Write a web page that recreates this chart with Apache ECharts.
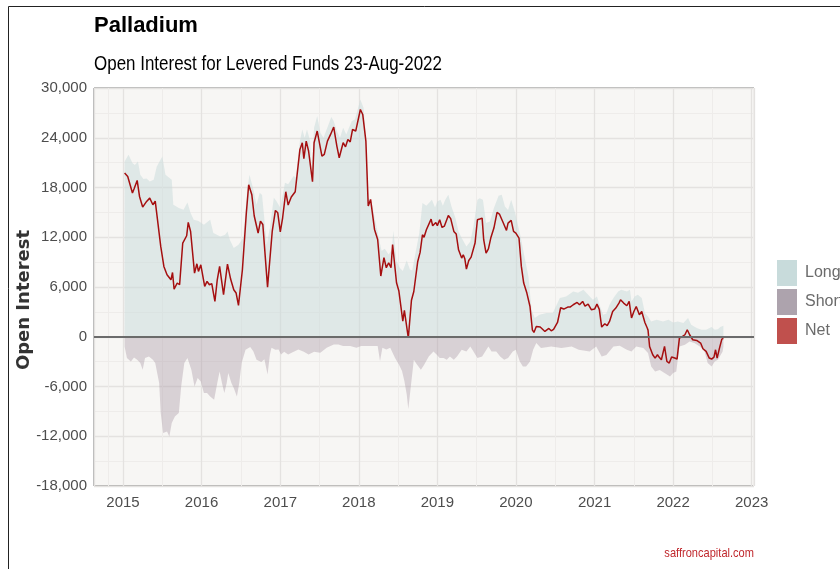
<!DOCTYPE html>
<html>
<head>
<meta charset="utf-8">
<title>Palladium</title>
<script src="https://cdn.jsdelivr.net/npm/echarts@6/dist/echarts.min.js"></script>
<style>
  html, body { margin: 0; padding: 0; background: #fff; }
  #chart { width: 840px; height: 569px; }
</style>
</head>
<body>
<div id="chart"></div>
<script>
// dates are decimal years, values are contracts
var longDates = [2015.02, 2015.07, 2015.12, 2015.15, 2015.19, 2015.22, 2015.26, 2015.30, 2015.34, 2015.39, 2015.43, 2015.50, 2015.54, 2015.62, 2015.64, 2015.71, 2015.77, 2015.82, 2015.86, 2015.90, 2015.96,
  2016.03, 2016.11, 2016.15, 2016.24, 2016.30, 2016.33, 2016.36, 2016.41, 2016.47, 2016.53, 2016.58, 2016.61, 2016.66, 2016.70, 2016.74, 2016.77, 2016.83, 2016.87, 2016.92, 2016.95,
  2017.00, 2017.06, 2017.10, 2017.17, 2017.20, 2017.25, 2017.28, 2017.31, 2017.34, 2017.38, 2017.40, 2017.43, 2017.47, 2017.51, 2017.55, 2017.59, 2017.65, 2017.68, 2017.72, 2017.76, 2017.80, 2017.84, 2017.91, 2017.95,
  2018.02, 2018.06, 2018.09, 2018.12, 2018.16, 2018.21, 2018.25, 2018.29, 2018.33, 2018.38, 2018.42, 2018.44, 2018.48, 2018.52, 2018.56, 2018.61, 2018.65, 2018.68, 2018.72, 2018.77, 2018.81, 2018.86, 2018.93, 2018.97,
  2019.00, 2019.04, 2019.07, 2019.10, 2019.14, 2019.18, 2019.23, 2019.27, 2019.31, 2019.37, 2019.42, 2019.46, 2019.51, 2019.54, 2019.58, 2019.62, 2019.67, 2019.72, 2019.78, 2019.82, 2019.86, 2019.90, 2019.94, 2019.99,
  2020.01, 2020.06, 2020.10, 2020.16, 2020.20, 2020.24, 2020.30, 2020.39, 2020.47, 2020.52, 2020.56, 2020.64, 2020.73, 2020.79, 2020.86, 2020.92, 2020.98,
  2021.03, 2021.07, 2021.11, 2021.15, 2021.19, 2021.24, 2021.30, 2021.34, 2021.41, 2021.45, 2021.47, 2021.51, 2021.55, 2021.60, 2021.64, 2021.68, 2021.72, 2021.79, 2021.87, 2021.94,
  2022.00, 2022.06, 2022.13, 2022.19, 2022.23, 2022.30, 2022.36, 2022.42, 2022.49, 2022.53, 2022.57, 2022.60, 2022.64];
var longValues = [21150, 21950, 20950, 20700, 21150, 19540, 19020, 19100, 18730, 18930, 20540, 21740, 19540, 18930, 15920, 15520, 15320, 16200, 14920, 14110, 13950,
  13510, 14110, 12510, 12100, 12300, 12700, 11700, 10700, 11090, 11900, 17520, 19540, 17730, 15920, 17370, 17100, 11130, 13150, 16760, 16400,
  15560, 18570, 18400, 19380, 19200, 23600, 25000, 24000, 25000, 23600, 19980, 25200, 26610, 24600, 24000, 25000, 26490, 26000, 24810, 24000, 25200, 24400, 26010, 26200,
  28620, 27620, 24000, 16760, 16400, 13950, 12140, 10330, 10600, 9920, 10500, 12750, 9130, 8320, 7920, 9200, 8100, 8000, 10000, 12500, 16120, 15800, 16520, 15600,
  16320, 16520, 15800, 16500, 17120, 15710, 14310, 12700, 11900, 10890, 11500, 13300, 16520, 16700, 16520, 13710, 13900, 15520, 17000, 17120, 15710, 15300, 16520, 14920,
  14700, 12100, 10090, 7270, 3260, 2260, 2650, 2860, 2860, 3860, 4670, 4860, 5460, 5300, 5670, 5070, 4460,
  4860, 3650, 2650, 2800, 3860, 4670, 5460, 5670, 5460, 5670, 4260, 4860, 5070, 4670, 2860, 2450, 1850, 2050, 1850, 2050,
  1720, 1850, 1650, 2260, 1450, 1050, 840, 840, 1170, 840, 900, 1170, 1330];

var shortDates = [2015.02, 2015.05, 2015.10, 2015.14, 2015.18, 2015.22, 2015.25, 2015.28, 2015.33, 2015.38, 2015.41, 2015.46, 2015.48, 2015.51, 2015.56, 2015.59, 2015.62, 2015.66, 2015.71, 2015.74, 2015.78, 2015.82, 2015.87, 2015.91, 2015.95, 2015.99,
  2016.03, 2016.07, 2016.11, 2016.16, 2016.20, 2016.23, 2016.26, 2016.29, 2016.32, 2016.34, 2016.38, 2016.41, 2016.45, 2016.48, 2016.51, 2016.56, 2016.62, 2016.66, 2016.70, 2016.76, 2016.80, 2016.84, 2016.87, 2016.89, 2016.94, 2016.98,
  2017.01, 2017.05, 2017.10, 2017.17, 2017.23, 2017.30, 2017.36, 2017.43, 2017.51, 2017.59, 2017.68, 2017.74, 2017.80, 2017.89, 2017.97,
  2018.03, 2018.10, 2018.18, 2018.24, 2018.27, 2018.30, 2018.35, 2018.40, 2018.46, 2018.51, 2018.55, 2018.58, 2018.61, 2018.63, 2018.66, 2018.70, 2018.74, 2018.79, 2018.83, 2018.89, 2018.95, 2018.99,
  2019.03, 2019.08, 2019.12, 2019.16, 2019.21, 2019.25, 2019.31, 2019.37, 2019.42, 2019.46, 2019.51, 2019.57, 2019.61, 2019.65, 2019.69, 2019.75, 2019.80, 2019.85, 2019.90, 2019.96,
  2020.00, 2020.05, 2020.09, 2020.13, 2020.18, 2020.22, 2020.26, 2020.32, 2020.45, 2020.58, 2020.71, 2020.80, 2020.94,
  2021.02, 2021.09, 2021.15, 2021.24, 2021.32, 2021.41, 2021.47, 2021.53, 2021.62, 2021.68, 2021.72, 2021.77, 2021.83, 2021.89, 2021.96,
  2022.00, 2022.04, 2022.08, 2022.15, 2022.21, 2022.27, 2022.34, 2022.40, 2022.44, 2022.49, 2022.53, 2022.57, 2022.63, 2022.64];
var shortValues = [-1170, -2570, -2980, -2500, -2770, -3170, -3980, -2570, -2370, -2770, -3170, -5580, -9200, -11610, -11420, -12020, -10410, -9610, -9200, -5990, -3170, -2570, -3980, -5990, -4980, -5390,
  -6790, -6790, -7200, -7600, -5580, -4180, -5580, -6790, -5580, -4380, -5580, -6190, -7200, -5580, -3170, -1570, -1250, -1770, -2770, -3050, -2700, -4550, -2130, -1330, -1570, -1530,
  -2130, -1800, -2130, -1800, -1530, -1800, -2130, -1800, -1930, -1330, -930, -930, -1130, -1130, -1330,
  -1130, -1130, -1130, -1130, -2930, -1330, -1530, -1330, -2530, -3340, -4140, -5340, -6960, -8700, -6150, -2770, -3340, -3980, -3400, -2370, -1770, -2130,
  -2570, -2570, -2770, -2370, -2770, -2370, -1570, -1770, -1170, -1770, -2570, -2370, -1770, -1170, -1770, -1770, -2370, -2770, -2570, -1770,
  -1570, -2980, -3580, -3580, -2980, -1570, -760, -1370, -1170, -1370, -1170, -1570, -1770,
  -1170, -2370, -2200, -1170, -1100, -1570, -1770, -1170, -1370, -1970, -3580, -4180, -4000, -4380, -4790,
  -4380, -4180, -1170, -960, -560, -760, -1170, -1770, -3170, -3580, -2980, -2770, -1770, -1170];

var netDates = [2015.02, 2015.06, 2015.08, 2015.12, 2015.14, 2015.18, 2015.21, 2015.25, 2015.30, 2015.34, 2015.38, 2015.41, 2015.48, 2015.52, 2015.56, 2015.61, 2015.63, 2015.65, 2015.69, 2015.72, 2015.76, 2015.81, 2015.83, 2015.86, 2015.91, 2015.94, 2015.96, 2015.99,
  2016.04, 2016.07, 2016.10, 2016.13, 2016.17, 2016.20, 2016.23, 2016.28, 2016.33, 2016.37, 2016.41, 2016.44, 2016.47, 2016.52, 2016.57, 2016.60, 2016.64, 2016.67, 2016.72, 2016.75, 2016.78, 2016.84, 2016.90, 2016.94, 2016.97,
  2017.00, 2017.03, 2017.07, 2017.10, 2017.14, 2017.19, 2017.21, 2017.25, 2017.28, 2017.30, 2017.33, 2017.36, 2017.41, 2017.43, 2017.47, 2017.53, 2017.56, 2017.60, 2017.64, 2017.68, 2017.72, 2017.75, 2017.80, 2017.83, 2017.86, 2017.89, 2017.92, 2017.96,
  2018.02, 2018.05, 2018.09, 2018.12, 2018.15, 2018.20, 2018.24, 2018.28, 2018.32, 2018.35, 2018.38, 2018.41, 2018.43, 2018.48, 2018.51, 2018.56, 2018.58, 2018.63, 2018.67, 2018.70, 2018.75, 2018.78, 2018.81, 2018.83, 2018.86, 2018.92, 2018.94, 2018.98,
  2019.00, 2019.03, 2019.06, 2019.09, 2019.14, 2019.17, 2019.21, 2019.24, 2019.27, 2019.31, 2019.33, 2019.35, 2019.37, 2019.40, 2019.43, 2019.48, 2019.51, 2019.54, 2019.57, 2019.59, 2019.62, 2019.65, 2019.68, 2019.72, 2019.76, 2019.79, 2019.84, 2019.88, 2019.90, 2019.94, 2019.97,
  2020.00, 2020.04, 2020.07, 2020.10, 2020.14, 2020.18, 2020.21, 2020.23, 2020.26, 2020.31, 2020.37, 2020.42, 2020.45, 2020.48, 2020.53, 2020.57, 2020.61, 2020.66, 2020.69, 2020.73, 2020.78, 2020.81, 2020.85, 2020.88, 2020.92, 2020.96,
  2021.00, 2021.03, 2021.06, 2021.09, 2021.13, 2021.16, 2021.19, 2021.23, 2021.27, 2021.31, 2021.33, 2021.37, 2021.41, 2021.44, 2021.47, 2021.50, 2021.53, 2021.57, 2021.60, 2021.64, 2021.67, 2021.68, 2021.70, 2021.74, 2021.77, 2021.80, 2021.82, 2021.85, 2021.89, 2021.92, 2021.95, 2021.98,
  2022.02, 2022.05, 2022.08, 2022.12, 2022.15, 2022.18, 2022.21, 2022.25, 2022.30, 2022.35, 2022.38, 2022.42, 2022.46, 2022.49, 2022.52, 2022.54, 2022.56, 2022.59, 2022.62, 2022.64];
var netValues = [19740, 19330, 19500, 17330, 17810, 18850, 16920, 15640, 16320, 16720, 15920, 16360, 10890, 8480, 7480, 6870, 7750, 5750, 6480, 6270, 11300, 12180, 13790, 12700, 7680, 8800, 7880, 8680,
  6070, 6670, 6270, 6400, 4260, 6870, 8480, 5070, 8770, 6960, 5670, 5270, 3780, 8080, 14920, 18330, 17120, 14590, 12510, 13950, 13540, 5990, 12750, 15230, 14950,
  12660, 14350, 17490, 15880, 16850, 17490, 17500, 22590, 23400, 21470, 23600, 22400, 18690, 23400, 24810, 21790, 22000, 23600, 24400, 25290, 23000, 21590, 23400, 22900, 23790, 23500, 25000, 24810,
  27410, 26810, 23600, 15760, 16560, 12940, 11730, 7320, 9530, 8320, 8920, 8320, 11130, 6510, 5510, 1890, 3170, -150, 4400, 5460, 9080, 10170, 12300, 12000, 12900, 14190, 13390, 13780,
  13400, 14110, 13180, 13350, 14630, 14250, 12700, 12400, 10490, 9490, 9890, 9400, 8160, 9200, 9600, 11300, 14110, 14200, 14310, 11700, 10090, 10600, 11900, 13110, 14990, 14800, 13710, 12820, 13700, 14030, 12700,
  12500, 11900, 8480, 6480, 5270, 3650, 840, 520, 1240, 1170, 640, 1000, 720, 900, 1720, 3500, 3340, 3580, 3580, 3860, 4140, 3860, 4260, 3700, 3940, 3260,
  3340, 3940, 3300, 1170, 1570, 1330, 1850, 3050, 3460, 4060, 4460, 4060, 3740, 4260, 2260, 3050, 3650, 2650, 3050, 1720, 1050, 800, -1170, -2170, -2570, -2170, -2450, -2770, -1170, -2980, -3170, -2450,
  -2570, -2690, -160, 40, 240, 840, 240, -360, -450, -760, -1450, -1770, -2570, -2690, -2450, -1570, -2570, -1370, -280, -200];

var yTicks = [-18000, 30000, 6000];   // min, max, step
var xRange = [2014.63, 2023.03];

var DAY = 86400000;
function toTime(t) {
  var y = Math.floor(t);
  return Date.UTC(y, 0, 1) + (t - y) * 365.25 * DAY;
}
function pairs(dates, vals) {
  return dates.map(function (d, i) { return [toTime(d), vals[i]]; });
}

var fontFam = '"Liberation Sans", Arial, sans-serif';
var chart = echarts.init(document.getElementById('chart'));

chart.setOption({
  backgroundColor: '#ffffff',
  animation: false,
  title: [
    { text: 'Palladium', left: 94, top: 15, padding: 0, textStyle: { fontFamily: fontFam, fontSize: 22, fontWeight: 'bold', color: '#000' } }
  ],
  graphic: [
    { type: 'rect', shape: { x: 8.5, y: 6.5, width: 900, height: 700 }, style: { fill: 'none', stroke: '#222', lineWidth: 1 }, silent: true },
    // subtitle is squeezed sideways like the source image
    { type: 'text', x: 94, y: 64, scaleX: 0.82, silent: true,
      style: { text: 'Open Interest for Levered Funds 23-Aug-2022', fill: '#000', font: '20.7px "Liberation Sans", Arial, sans-serif', align: 'left', verticalAlign: 'middle' } },
    { type: 'text', x: 24, y: 300, rotation: Math.PI / 2, silent: true,
      style: { text: 'Open Interest', fill: '#333', font: 'bold 18px "DejaVu Sans", sans-serif', align: 'center', verticalAlign: 'middle' } },
    { type: 'text', x: 754, y: 553, scaleX: 0.82, silent: true,
      style: { text: 'saffroncapital.com', fill: '#C0282D', font: '13.5px "Liberation Sans", Arial, sans-serif', align: 'right', verticalAlign: 'middle' } }
  ],
  legend: {
    data: ['Long', 'Short', 'Net'],
    orient: 'vertical',
    left: 777,
    top: 260,
    padding: 0,
    itemWidth: 20,
    itemHeight: 26,
    itemGap: 3,
    icon: 'rect',
    itemStyle: { borderWidth: 0 },
    textStyle: { fontFamily: fontFam, fontSize: 16, color: '#6b6b6b', padding: [0, 0, 0, 3] }
  },
  grid: {
    left: 94, right: 86, top: 88, bottom: 83,
    show: true,
    backgroundColor: '#F7F6F4',
    borderColor: '#6e6e6e',
    borderWidth: 1
  },
  xAxis: {
    type: 'time',
    min: toTime(xRange[0]),
    max: toTime(xRange[1]),
    splitNumber: 8,
    minInterval: 360 * DAY,
    axisLine: { show: false },
    axisTick: { show: false },
    axisLabel: {
      margin: 9,
      color: '#4d4d4d',
      fontFamily: fontFam,
      fontSize: 15,
      formatter: function (v) { return String(new Date(v).getUTCFullYear()); }
    },
    splitLine: { show: true, lineStyle: { color: '#E4E2E0', width: 1.3 } },
    minorTick: { show: false, splitNumber: 2 },
    minorSplitLine: { show: true, lineStyle: { color: '#EEECEA', width: 1 } }
  },
  yAxis: {
    type: 'value',
    min: yTicks[0],
    max: yTicks[1],
    interval: yTicks[2],
    axisLine: { show: false },
    axisTick: { show: false },
    axisLabel: {
      margin: 7,
      color: '#4d4d4d',
      fontFamily: fontFam,
      fontSize: 15,
      formatter: function (v) { return v.toLocaleString('en-US'); }
    },
    splitLine: { show: true, lineStyle: { color: '#E4E2E0', width: 1.3 } },
    minorTick: { show: false, splitNumber: 2 },
    minorSplitLine: { show: true, lineStyle: { color: '#EEECEA', width: 1 } }
  },
  series: [
    {
      name: 'Long',
      type: 'line',
      data: pairs(longDates, longValues),
      showSymbol: false,
      symbol: 'none',
      lineStyle: { width: 0 },
      itemStyle: { color: '#C8DBDB' },
      areaStyle: { color: 'rgba(202,218,219,0.75)' },
      z: 2
    },
    {
      name: 'Short',
      type: 'line',
      data: pairs(shortDates, shortValues),
      showSymbol: false,
      symbol: 'none',
      lineStyle: { width: 0 },
      itemStyle: { color: '#ADA3AD' },
      areaStyle: { color: 'rgba(174,158,170,0.6)' },
      markLine: {
        silent: true,
        symbol: 'none',
        label: { show: false },
        lineStyle: { color: '#6b6b6b', width: 2, type: 'solid' },
        data: [{ yAxis: 0 }]
      },
      z: 3
    },
    {
      name: 'Net',
      type: 'line',
      data: pairs(netDates, netValues),
      showSymbol: false,
      symbol: 'none',
      itemStyle: { color: '#C0504D' },
      lineStyle: { color: '#A50F10', width: 1.5 },
      z: 4
    }
  ]
});
</script>
</body>
</html>
